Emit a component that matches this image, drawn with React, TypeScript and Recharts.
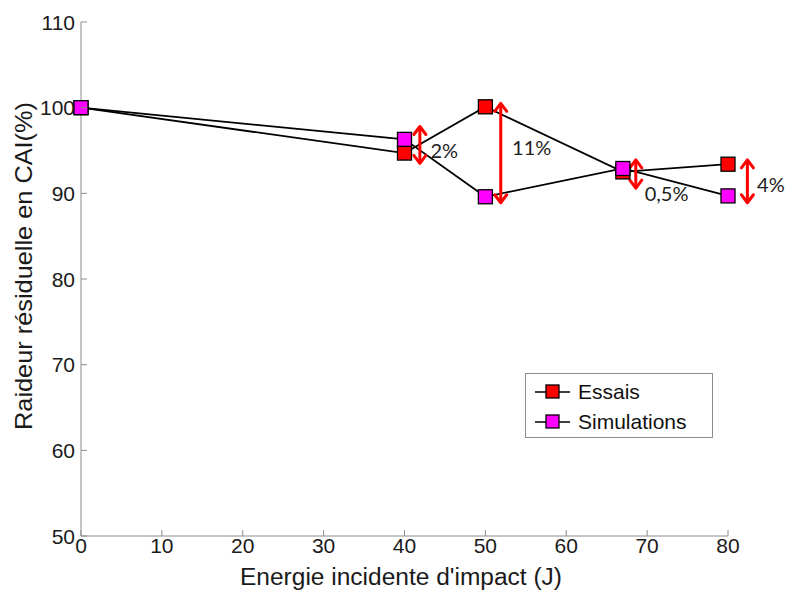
import { LineChart, Line, XAxis, YAxis, Legend, ReferenceLine, ReferenceDot, Label } from 'recharts'

const energy = [0, 40, 50, 67, 80]
const essais = [100, 94.7, 100.1, 92.5, 93.4]
const simulations = [100, 96.3, 89.6, 92.9, 89.7]

const xTicks = [0, 10, 20, 30, 40, 50, 60, 70, 80]
const yTicks = [50, 60, 70, 80, 90, 100, 110]

// ecarts essais / simulations (fleches rouges)
const gapX = [41.9, 51.9, 68.6, 82.4]
const gapTop = [97.8, 100.5, 93.9, 93.9]
const gapBottom = [93.5, 88.9, 90.6, 88.9]
const gapLabels = ['2%', '11%', '0,5%', '4%']
const gapLabelX = [43.2, 53.3, 69.7, 83.6]
const gapLabelY = [95.0, 95.3, 90.0, 91.0]

const data = energy.map((e, i) => ({ energy: e, essais: essais[i], simulations: simulations[i] }))

const AXIS_GREY = '#8c8c8c'
const FONT = '"Liberation Sans", Arial, sans-serif'

const Square = (props: any) => {
  const { cx, cy, fill } = props
  if (cx == null || cy == null) return null
  return <rect x={cx - 7} y={cy - 7} width={14} height={14} fill={fill} stroke="#000" strokeWidth={1.3} />
}

const YTick = ({ x, y, payload }: any) => (
  <g>
    <line x1={x} y1={y} x2={x + 6} y2={y} stroke={AXIS_GREY} />
    <text x={x - 6} y={y} dy="0.36em" textAnchor="end" fontSize={21} fontFamily={FONT} fill="#1a1a1a">
      {payload.value}
    </text>
  </g>
)

const XTick = ({ x, y, payload }: any) => (
  <g>
    <line x1={x} y1={y} x2={x} y2={y - 6} stroke={AXIS_GREY} />
    <text x={x} y={y + 17} textAnchor="middle" fontSize={21} fontFamily={FONT} fill="#1a1a1a">
      {payload.value}
    </text>
  </g>
)

const Arrow = (props: any) => {
  const { x1, y1, x2, y2 } = props
  const x = (x1 + x2) / 2
  const top = Math.min(y1, y2)
  const bottom = Math.max(y1, y2)
  return (
    <g stroke="#ff0000" strokeWidth={3} fill="none" strokeLinecap="round" strokeLinejoin="round">
      <line x1={x} y1={top + 1} x2={x} y2={bottom - 1} />
      <polyline points={`${x - 6},${top + 8} ${x},${top} ${x + 6},${top + 8}`} />
      <polyline points={`${x - 6},${bottom - 8} ${x},${bottom} ${x + 6},${bottom - 8}`} />
    </g>
  )
}

const GapText = (text: string) => (props: any) => (
  <text x={props.cx} y={props.cy} dy="0.36em" fontSize={20} fontFamily="Lato, 'Open Sans', sans-serif" fill="#222">
    {text}
  </text>
)

const LegendBox = () => (
  <div
    style={{
      width: 186,
      height: 63,
      border: '1px solid #8c8c8c',
      background: '#fff',
      fontFamily: FONT,
      fontSize: 21,
      color: '#111',
    }}
  >
    {[
      { name: 'Essais', color: '#ff0000' },
      { name: 'Simulations', color: '#ff00ff' },
    ].map((item, i) => (
      <div key={item.name} style={{ display: 'flex', alignItems: 'center', height: 30, marginTop: i === 0 ? 3 : 0 }}>
        <svg width={52} height={30}>
          <line x1={9} y1={15} x2={44} y2={15} stroke="#000" strokeWidth={1.5} />
          <rect x={20} y={8} width={13} height={13} fill={item.color} stroke="#000" strokeWidth={1.3} />
        </svg>
        <span>{item.name}</span>
      </div>
    ))}
  </div>
)

export default function App() {
  return (
    <div style={{ position: 'absolute', left: 0, top: 0, width: 788, height: 590, background: '#fff' }}>
      <LineChart width={788} height={590} data={data} margin={{ top: 22, right: 60, bottom: 0, left: 0 }}>
        <XAxis
          type="number"
          dataKey="energy"
          domain={[0, 80]}
          ticks={xTicks}
          height={54}
          tickSize={0}
          tickMargin={0}
          tick={<XTick />}
          axisLine={{ stroke: AXIS_GREY }}
          tickLine={false}
        >
          <Label
            content={() => (
              <text
                x={401}
                y={585}
                textAnchor="middle"
                textLength={322}
                lengthAdjust="spacingAndGlyphs"
                fontSize={23}
                fontFamily={FONT}
                fill="#1a1a1a"
              >
                Energie incidente d'impact (J)
              </text>
            )}
          />
        </XAxis>
        <YAxis
          type="number"
          domain={[50, 110]}
          ticks={yTicks}
          width={81}
          tickSize={0}
          tickMargin={0}
          tick={<YTick />}
          axisLine={{ stroke: AXIS_GREY }}
          tickLine={false}
        >
          <Label
            content={() => (
              <text
                x={32}
                y={266}
                transform="rotate(-90, 32, 266)"
                textAnchor="middle"
                textLength={328}
                lengthAdjust="spacingAndGlyphs"
                fontSize={24}
                fontFamily={FONT}
                fill="#1a1a1a"
              >
                Raideur résiduelle en CAI(%)
              </text>
            )}
          />
        </YAxis>
        <Legend
          layout="horizontal"
          verticalAlign="middle"
          align="center"
          content={<LegendBox />}
          wrapperStyle={{ left: 525, top: 373, width: 188 }}
        />
        <Line
          type="linear"
          dataKey="essais"
          name="Essais"
          stroke="#000"
          strokeWidth={1.8}
          dot={(p: any) => <Square key={`e${p.index}`} {...p} fill="#ff0000" />}
          activeDot={false}
          isAnimationActive={false}
        />
        <Line
          type="linear"
          dataKey="simulations"
          name="Simulations"
          stroke="#000"
          strokeWidth={1.8}
          dot={(p: any) => <Square key={`s${p.index}`} {...p} fill="#ff00ff" />}
          activeDot={false}
          isAnimationActive={false}
        />
        {gapX.map((x, i) => (
          <ReferenceLine
            key={`gap${i}`}
            segment={[
              { x, y: gapTop[i] },
              { x, y: gapBottom[i] },
            ]}
            ifOverflow="visible"
            shape={<Arrow />}
          />
        ))}
        {gapLabels.map((t, i) => (
          <ReferenceDot
            key={`lab${i}`}
            x={gapLabelX[i]}
            y={gapLabelY[i]}
            ifOverflow="visible"
            shape={GapText(t)}
          />
        ))}
      </LineChart>
    </div>
  )
}
